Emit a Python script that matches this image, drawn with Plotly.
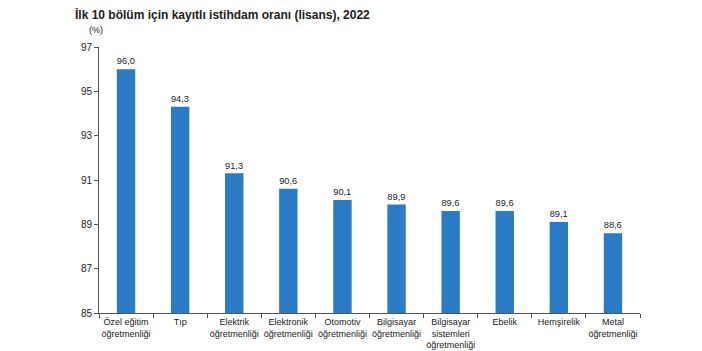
import plotly.graph_objects as go

categories = ["Özel eğitim<br>öğretmenliği", "Tıp", "Elektrik<br>öğretmenliği", "Elektronik<br>öğretmenliği",
              "Otomotiv<br>öğretmenliği", "Bilgisayar<br>öğretmenliği", "Bilgisayar<br>sistemleri<br>öğretmenliği",
              "Ebelik", "Hemşirelik", "Metal<br>öğretmenliği"]
values = [96.0, 94.3, 91.3, 90.6, 90.1, 89.9, 89.6, 89.6, 89.1, 88.6]
y_ticks = [85, 87, 89, 91, 93, 95, 97]

L, R, T, B = 99, 62, 47, 38
pw = 702 - L - R
ph = 351 - T - B

fig = go.Figure(go.Bar(
    x=categories, y=values, marker=dict(color="#2A7BC6", line=dict(width=0)),
    text=values, texttemplate="%{y:.1f}", textposition="outside", cliponaxis=False,
    textfont=dict(size=10, color="#222222"), width=0.34,
))
fig.update_layout(
    width=702, height=351, separators=",.",
    margin=dict(l=L, r=R, t=T, b=B, autoexpand=False),
    plot_bgcolor="white", paper_bgcolor="white",
    font=dict(family="Liberation Sans, Arial, sans-serif", size=10, color="#222222"),
    showlegend=False,
    title=dict(text="<b>İlk 10 bölüm için kayıtlı istihdam oranı (lisans), 2022</b>",
               x=75/702, xanchor="left", y=1-15/351, yanchor="middle",
               font=dict(size=12, color="#222222")),
    annotations=[dict(text="(%)", x=(96-L)/pw, xref="paper", y=(351-B-30)/ph, yref="paper",
                      xanchor="center", yanchor="middle", showarrow=False,
                      font=dict(size=9, color="#222222"))],
)
fig.update_yaxes(range=[85, 97], tickvals=y_ticks, showgrid=False, showline=True,
                 linecolor="#555555", linewidth=1, ticks="outside", ticklen=4,
                 tickcolor="#555555", zeroline=False, automargin=False,
                 tickfont=dict(size=10))
fig.update_xaxes(showline=True, linecolor="#555555", linewidth=1, ticks="outside",
                 tickson="boundaries", ticklen=4, tickcolor="#555555", showgrid=False,
                 automargin=False, tickangle=0, tickfont=dict(size=9))
fig.write_html("out.html")
